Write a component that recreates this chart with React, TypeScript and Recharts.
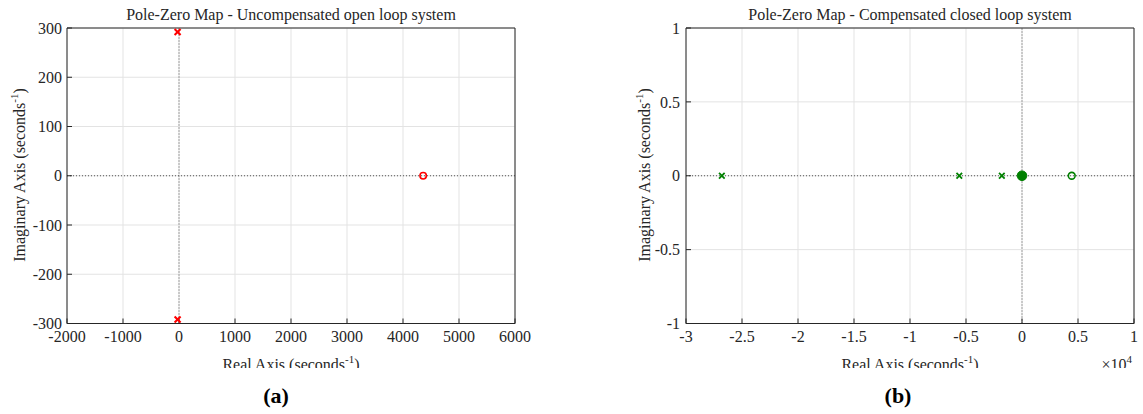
import React from 'react';
import { ScatterChart, Scatter, XAxis, YAxis, CartesianGrid, ReferenceLine } from 'recharts';

// ---------- data ----------
const leftXTicks = [-2000, -1000, 0, 1000, 2000, 3000, 4000, 5000, 6000];
const leftYTicks = [-300, -200, -100, 0, 100, 200, 300];
const leftPoleRe = [-25, -25];
const leftPoleIm = [292, -292];
const leftZeroRe = [4360];
const leftZeroIm = [0];

const rightXTicks = [-30000, -25000, -20000, -15000, -10000, -5000, 0, 5000, 10000];
const rightYTicks = [-1, -0.5, 0, 0.5, 1];
const rightPoleRe = [-26800, -5600, -1800];
const rightPoleIm = [0, 0, 0];
const rightZeroRe = [4440];
const rightZeroIm = [0];
const rightOriginRe = [0];
const rightOriginIm = [0];

const zip = (re: number[], im: number[]) => re.map((r, i) => ({ x: r, y: im[i] }));

const leftPoles = zip(leftPoleRe, leftPoleIm);
const leftZeros = zip(leftZeroRe, leftZeroIm);
const rightPoles = zip(rightPoleRe, rightPoleIm);
const rightZeros = zip(rightZeroRe, rightZeroIm);
const rightOrigin = zip(rightOriginRe, rightOriginIm);

const FONT = '"Liberation Serif", "Times New Roman", serif';
const RED = '#ff0000';
const GREEN = '#008000';
const AXIS = '#262626';

const crossShape = (color: string, s: number, w: number) => (props: any) => {
  const { cx, cy } = props;
  if (cx == null || cy == null) return <g />;
  return (
    <g>
      <line x1={cx - s} y1={cy - s} x2={cx + s} y2={cy + s} stroke={color} strokeWidth={w} />
      <line x1={cx - s} y1={cy + s} x2={cx + s} y2={cy - s} stroke={color} strokeWidth={w} />
    </g>
  );
};
const circleShape = (color: string, r: number, w: number, filled: boolean) => (props: any) => {
  const { cx, cy } = props;
  if (cx == null || cy == null) return <g />;
  return <circle cx={cx} cy={cy} r={r} fill={filled ? color : 'none'} stroke={color} strokeWidth={w} />;
};

const makeXTick = (fmt?: (v: number) => string) => (props: any) => {
  const { x, y, payload } = props;
  const v = payload?.value;
  const label = fmt ? fmt(v) : String(v);
  return (
    <text x={x} y={y} dy="0.71em" textAnchor="middle" style={{ fontFamily: FONT, fontSize: 16, fill: AXIS }}>
      {label}
    </text>
  );
};
const YTick = (props: any) => {
  const { x, y, payload } = props;
  return (
    <text x={x} y={y} dy="0.355em" textAnchor="end" style={{ fontFamily: FONT, fontSize: 16, fill: AXIS }}>
      {String(payload?.value)}
    </text>
  );
};

const Sup = ({ children }: { children: React.ReactNode }) => (
  <span style={{ fontSize: 11, position: 'relative', top: -7 }}>{children}</span>
);

const textBase: React.CSSProperties = {
  position: 'absolute',
  whiteSpace: 'nowrap',
  fontSize: 16,
  lineHeight: '18px',
  color: AXIS,
  fontFamily: FONT,
};

const Panel = (p: {
  left: number;
  width: number;
  yAxisWidth: number;
  rightMargin: number;
  xDomain: [number, number];
  yDomain: [number, number];
  xTicks: number[];
  yTicks: number[];
  xFmt?: (v: number) => string;
  yTickMargin: number;
  children: React.ReactNode;
  title: string;
  ylabelX: number;
  extra?: React.ReactNode;
}) => {
  const plotLeft = p.yAxisWidth;
  const plotRight = p.width - p.rightMargin - 1;
  const center = (plotLeft + plotRight) / 2;
  return (
    <div style={{ position: 'absolute', left: p.left, top: 0, width: p.width, height: 368, overflow: 'hidden' }}>
      <div style={{ ...textBase, left: center, top: 6, transform: 'translateX(-50%)' }}>{p.title}</div>
      <div
        style={{
          ...textBase,
          left: p.ylabelX,
          top: 175,
          transform: 'translate(-50%, -50%) rotate(-90deg)',
        }}
      >
        Imaginary Axis (seconds<Sup>-1</Sup>)
      </div>
      <div style={{ ...textBase, left: center, top: 356, transform: 'translateX(-50%)' }}>
        Real Axis (seconds<Sup>-1</Sup>)
      </div>
      {p.extra}
      <div style={{ position: 'absolute', left: 0, top: 0 }}>
        <ScatterChart
          width={p.width}
          height={400}
          margin={{ top: 27, right: p.rightMargin, bottom: 36.5, left: 0 }}
        >
          <CartesianGrid stroke="#e3e3e3" strokeWidth={1} />
          <XAxis
            xAxisId={0}
            dataKey="x"
            type="number"
            domain={p.xDomain}
            ticks={p.xTicks}
            interval={0}
            allowDataOverflow
            height={40}
            tickSize={-5}
            tickMargin={12.5}
            tick={makeXTick(p.xFmt)}
            axisLine={{ stroke: AXIS }}
            tickLine={{ stroke: AXIS }}
          />
          <XAxis
            xAxisId="top"
            orientation="top"
            type="number"
            domain={p.xDomain}
            ticks={p.xTicks}
            interval={0}
            allowDataOverflow
            height={1}
            tickSize={-5}
            tick={false}
            axisLine={{ stroke: AXIS }}
            tickLine={{ stroke: AXIS }}
          />
          <YAxis
            yAxisId={0}
            dataKey="y"
            type="number"
            domain={p.yDomain}
            ticks={p.yTicks}
            interval={0}
            allowDataOverflow
            width={p.yAxisWidth}
            tickSize={-5}
            tickMargin={p.yTickMargin}
            tick={YTick}
            axisLine={{ stroke: AXIS }}
            tickLine={{ stroke: AXIS }}
          />
          <YAxis
            yAxisId="right"
            orientation="right"
            type="number"
            domain={p.yDomain}
            ticks={p.yTicks}
            interval={0}
            allowDataOverflow
            width={1}
            tickSize={-5}
            tick={false}
            axisLine={{ stroke: AXIS }}
            tickLine={{ stroke: AXIS }}
          />
          <ReferenceLine x={0} xAxisId={0} yAxisId={0} stroke="#555" strokeDasharray="1 2" />
          <ReferenceLine y={0} xAxisId={0} yAxisId={0} stroke="#555" strokeDasharray="1 2" />
          {p.children}
        </ScatterChart>
      </div>
    </div>
  );
};

const captionStyle = (cx: number): React.CSSProperties => ({
  position: 'absolute',
  left: cx,
  top: 396,
  transform: 'translate(-50%, -50%)',
  fontSize: 22,
  fontWeight: 'bold',
  color: '#000',
  fontFamily: FONT,
});

export default function App() {
  return (
    <div
      style={{
        position: 'absolute',
        left: 0,
        top: 0,
        width: 1143,
        height: 414,
        background: '#fff',
        overflow: 'hidden',
        fontFamily: FONT,
      }}
    >
      <Panel
        left={0}
        width={560}
        yAxisWidth={67}
        rightMargin={44}
        xDomain={[-2000, 6000]}
        yDomain={[-300, 300]}
        xTicks={leftXTicks}
        yTicks={leftYTicks}
        yTickMargin={10}
        title="Pole-Zero Map - Uncompensated open loop system"
        ylabelX={20}
      >
        <Scatter
          name="Poles"
          data={leftPoles}
          xAxisId={0}
          yAxisId={0}
          isAnimationActive={false}
          shape={crossShape(RED, 3, 2)}
        />
        <Scatter
          name="Zeros"
          data={leftZeros}
          xAxisId={0}
          yAxisId={0}
          isAnimationActive={false}
          shape={circleShape(RED, 3.2, 1.6, false)}
        />
      </Panel>
      <Panel
        left={580}
        width={563}
        yAxisWidth={106}
        rightMargin={8}
        xDomain={[-30000, 10000]}
        yDomain={[-1, 1]}
        xTicks={rightXTicks}
        yTicks={rightYTicks}
        xFmt={(v: number) => String(v / 10000)}
        yTickMargin={11}
        title="Pole-Zero Map - Compensated closed loop system"
        ylabelX={65}
        extra={
          <div style={{ ...textBase, right: 11, top: 356 }}>
            ×10<Sup>4</Sup>
          </div>
        }
      >
        <Scatter
          name="Poles"
          data={rightPoles}
          xAxisId={0}
          yAxisId={0}
          isAnimationActive={false}
          shape={crossShape(GREEN, 2.8, 1.8)}
        />
        <Scatter
          name="Zeros"
          data={rightZeros}
          xAxisId={0}
          yAxisId={0}
          isAnimationActive={false}
          shape={circleShape(GREEN, 3.4, 1.6, false)}
        />
        <Scatter
          name="Origin"
          data={rightOrigin}
          xAxisId={0}
          yAxisId={0}
          isAnimationActive={false}
          shape={circleShape(GREEN, 4.8, 1, true)}
        />
      </Panel>
      <div style={captionStyle(276)}>(a)</div>
      <div style={captionStyle(898)}>(b)</div>
    </div>
  );
}
